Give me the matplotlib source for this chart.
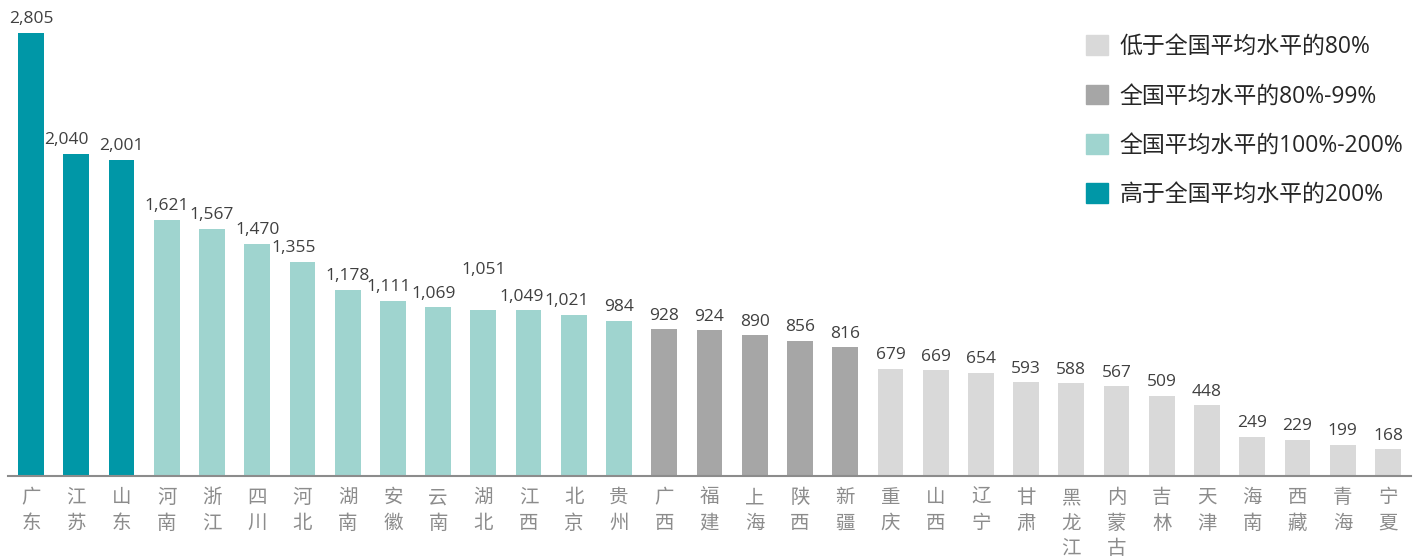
import matplotlib
matplotlib.use('Agg')
import matplotlib.pyplot as plt
from matplotlib.patches import Patch

plt.rcParams['font.family'] = ['Open Sans', 'Noto Sans CJK SC', 'DejaVu Sans']

# Provinces, values and category (0 = <80%, 1 = 80-99%, 2 = 100-200%, 3 = >200%)
provinces = ['广东', '江苏', '山东', '河南', '浙江', '四川', '河北', '湖南', '安徽', '云南',
             '湖北', '江西', '北京', '贵州', '广西', '福建', '上海', '陕西', '新疆', '重庆',
             '山西', '辽宁', '甘肃', '黑龙江', '内蒙古', '吉林', '天津', '海南', '西藏', '青海', '宁夏']
values = [2805, 2040, 2001, 1621, 1567, 1470, 1355, 1178, 1111, 1069,
          1051, 1049, 1021, 984, 928, 924, 890, 856, 816, 679,
          669, 654, 593, 588, 567, 509, 448, 249, 229, 199, 168]
groups = [3, 3, 3, 2, 2, 2, 2, 2, 2, 2,
          2, 2, 2, 2, 1, 1, 1, 1, 1, 0,
          0, 0, 0, 0, 0, 0, 0, 0, 0, 0, 0]
legend_labels = ['低于全国平均水平的80%', '全国平均水平的80%-99%',
                 '全国平均水平的100%-200%', '高于全国平均水平的200%']
group_colors = ['#d9d9d9', '#a6a6a6', '#9fd4cf', '#0097a7']

# a few labels in the original were nudged by hand to avoid overlapping (points)
nudges = {1: (-7, 0), 6: (-6, 0), 8: (-3, 0), 9: (-3, 0), 10: (0, 19), 11: (-5, 0), 12: (-5, 0)}

fig = plt.figure(figsize=(14.22, 5.6), dpi=100)
ax = fig.add_axes([8 / 1422, 84 / 560, 1403 / 1422, 476 / 560])

x = range(len(provinces))
colors = [group_colors[g] for g in groups]
ax.bar(x, values, width=0.57, color=colors, zorder=2)

for xi, v in zip(x, values):
    dx, dy = nudges.get(xi, (0, 0))
    ax.annotate(f'{v:,}', (xi, v), xytext=(dx, 4 + dy), textcoords='offset points',
                ha='center', va='bottom', fontsize=12.5, color='#404040')

ax.set_xlim(-0.51, 30.51)
ax.set_ylim(0, 3014)
ax.set_yticks([])
ax.set_xticks(list(x))
ax.set_xticklabels(['\n'.join(p) for p in provinces], family=['Noto Sans CJK SC'],
                   fontsize=14, color='#8c8c8c', linespacing=1.28, va='top')
ax.tick_params(axis='x', length=0, pad=8)
for s in ['top', 'right', 'left']:
    ax.spines[s].set_visible(False)
ax.spines['bottom'].set_color('#8c8c8c')
ax.spines['bottom'].set_linewidth(1.5)

handles = [Patch(color=c) for c in group_colors]
leg = ax.legend(handles, legend_labels, loc='upper left',
                bbox_to_anchor=(1077 / 1422, 1 - 26 / 560), bbox_transform=fig.transFigure,
                frameon=False, fontsize=16.5, handlelength=0.95, handleheight=0.95,
                handletextpad=0.5, labelspacing=1.1, borderaxespad=0)
for t in leg.get_texts():
    t.set_color('#262626')

fig.savefig('out.png', dpi=100)
